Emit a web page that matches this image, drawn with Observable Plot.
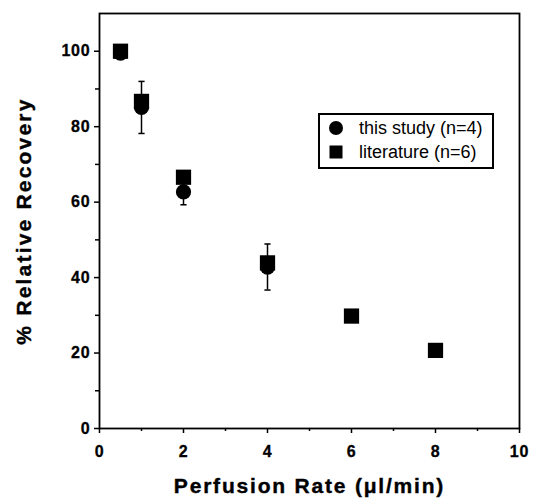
<!DOCTYPE html>
<html>
<head>
<meta charset="utf-8">
<script src="https://cdn.jsdelivr.net/npm/d3@7"></script>
<script src="https://cdn.jsdelivr.net/npm/@observablehq/plot@0.6"></script>
<style>
  body { margin: 0; background: #fff; }
  #wrap { position: relative; width: 533px; height: 502px; font-family: "Liberation Sans", Arial, Helvetica, sans-serif; }
  #legend { position: absolute; left: 318px; top: 113px; width: 172px; height: 52px; border: 2px solid #000; background: #fff; font-size: 18px; }
  #legend .row { position: absolute; left: 8px; height: 22px; display: flex; align-items: center; white-space: nowrap; }
  #legend svg { margin-right: 15px; }
</style>
</head>
<body>
<div id="wrap">
  <div id="chart"></div>
  <div id="legend">
    <div class="row" style="top:2px"><svg width="16" height="16"><circle cx="8" cy="8" r="7" fill="#000"/></svg>this study (n=4)</div>
    <div class="row" style="top:26px"><svg width="16" height="16"><rect x="1.5" y="1.5" width="13" height="13" fill="#000"/></svg>literature (n=6)</div>
  </div>
</div>
<script>
// this study (n=4): mean ± error
const studyRate = [0.5, 1, 2, 4];
const studyMean = [99.5, 85.1, 62.7, 42.8];
const studyErr  = [1, 6.9, 3.4, 6.1];

// literature (n=6)
const litRate = [0.5, 1, 2, 4, 6, 8];
const litMean = [100, 86.7, 66.6, 43.9, 29.8, 20.7];

const xMajor = [0, 2, 4, 6, 8, 10];
const xMinor = [1, 3, 5, 7, 9];
const yMajor = [0, 20, 40, 60, 80, 100];
const yMinor = [10, 30, 50, 70, 90];

const xTitle = "Perfusion Rate (μl/min)";
const yTitle = "% Relative Recovery";

const study = studyRate.map((x, i) => ({x, y: studyMean[i], lo: studyMean[i] - studyErr[i], hi: studyMean[i] + studyErr[i]}));
const lit = litRate.map((x, i) => ({x, y: litMean[i]}));

const cap = { draw(ctx, size) { const w = Math.sqrt(size); ctx.moveTo(-w / 2, 0); ctx.lineTo(w / 2, 0); } };

const font = '"Liberation Sans", Arial, Helvetica, sans-serif';
const tickText = {fontSize: 16, fontWeight: "bold", fill: "#000", stroke: "#000", strokeWidth: 0.3};
const titleText = {fontSize: 21, fontWeight: "bold", fill: "#000", stroke: "#000", strokeWidth: 0.4};

const chart = Plot.plot({
  width: 533,
  height: 502,
  marginLeft: 99,
  marginRight: 14,
  marginTop: 13,
  marginBottom: 74,
  style: { fontFamily: font, background: "#fff", color: "#000" },
  x: { domain: [0, 10] },
  y: { domain: [0, 110] },
  marks: [
    Plot.axisX({ticks: xMajor, tickSize: 5, tickFormat: () => "", label: null, strokeWidth: 1.5}),
    Plot.axisX({ticks: xMinor, tickSize: 3, tickFormat: () => "", label: null, strokeWidth: 1.5}),
    Plot.axisY({ticks: yMajor, tickSize: 5, tickFormat: () => "", label: null, strokeWidth: 1.5}),
    Plot.axisY({ticks: yMinor, tickSize: 4, tickFormat: () => "", label: null, strokeWidth: 1.5}),
    Plot.text(xMajor, {x: d => d, text: d => String(d), frameAnchor: "bottom", lineAnchor: "middle", textAnchor: "middle", dy: 23, ...tickText}),
    Plot.text(yMajor, {y: d => d, text: d => String(d), frameAnchor: "left", lineAnchor: "middle", textAnchor: "end", dx: -9, ...tickText}),
    Plot.frame({stroke: "#000", strokeWidth: 1.8}),
    Plot.ruleX(study, {x: "x", y1: "lo", y2: "hi", stroke: "#000", strokeWidth: 1.5}),
    Plot.dot(study, {x: "x", y: "lo", symbol: cap, r: 3.5, stroke: "#000", strokeWidth: 1.5}),
    Plot.dot(study, {x: "x", y: "hi", symbol: cap, r: 3.5, stroke: "#000", strokeWidth: 1.5}),
    Plot.dot(study, {x: "x", y: "y", r: 7.6, fill: "#000", stroke: null}),
    Plot.dot(lit, {x: "x", y: "y", symbol: "square", r: 8.6, fill: "#000", stroke: null}),
    Plot.text([xTitle], {frameAnchor: "bottom", textAnchor: "middle", lineAnchor: "middle", dy: 58, ...titleText}),
    Plot.text([yTitle], {frameAnchor: "left", textAnchor: "middle", lineAnchor: "middle", dx: -75, rotate: -90, ...titleText})
  ]
});
// letter spacing (tracking) of the original typography
d3.select(chart).selectAll("text").each(function() {
  const t = this.textContent;
  if (t === xTitle) this.style.letterSpacing = "1.8px";
  else if (t === yTitle) this.style.letterSpacing = "2.2px";
  else this.style.letterSpacing = "0.8px";
});
document.getElementById("chart").appendChild(chart);
</script>
</body>
</html>
